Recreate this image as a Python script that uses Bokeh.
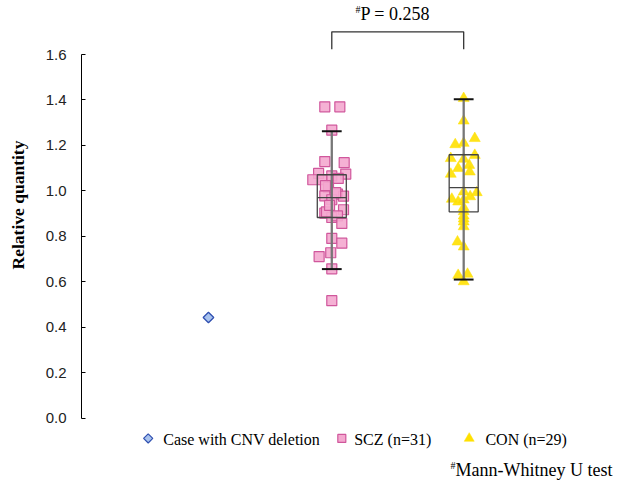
import math
from bokeh.plotting import figure
from bokeh.models import Range1d, FixedTicker, PrintfTickFormatter, ColumnDataSource
from bokeh.core.properties import value
from bokeh.embed import file_html
from bokeh.resources import INLINE

# ---------------- data ----------------
legend_labels = ["Case with CNV deletion", "SCZ (n=31)", "CON (n=29)"]

cnv_values = [0.443]

scz_values = [1.370, 1.370, 1.267, 1.129, 1.124, 1.077, 1.074, 1.049, 1.049, 1.066,
              1.055, 1.015, 0.978, 0.986, 0.977, 0.961, 0.902, 0.917, 0.883, 0.890,
              0.857, 0.791, 0.770, 0.711, 0.728, 0.657, 0.517, 0.992, 0.908, 1.023,
              0.936]
scz_jitter = [-0.053, 0.061, 0.0, -0.053, 0.094, -0.10, 0.106, -0.144, -0.07, 0.0,
              0.049, -0.025, -0.053, 0.043, 0.089, 0.0, -0.053, 0.089, 0.0, 0.043,
              0.076, 0.0, 0.076, -0.096, -0.008, 0.0, 0.0, 0.030, -0.040, -0.048,
              -0.017]

con_values = [1.407, 1.308, 1.204, 1.210, 1.231, 1.143, 1.140, 1.157, 1.099, 1.113,
              1.084, 1.074, 0.996, 0.993, 0.964, 0.975, 0.952, 0.961, 0.927, 0.890,
              0.864, 0.843, 0.776, 0.754, 0.629, 0.634, 0.601, 0.909, 0.877]
con_jitter = [0.0, 0.0, -0.064, 0.0, 0.084, -0.098, 0.0, 0.084, -0.042, 0.042,
              0.046, -0.098, 0.0, 0.099, -0.090, 0.049, -0.042, 0.0, 0.0, 0.0,
              0.0, 0.0, -0.047, 0.0, -0.042, 0.029, 0.0, 0.0, 0.0]

box_names = ["SCZ", "CON"]
box_low = [0.656, 0.610]
box_q1 = [0.883, 0.908]
box_median = [0.970, 1.014]
box_q3 = [1.071, 1.159]
box_high = [1.263, 1.403]

tick_values = [0.0, 0.2, 0.4, 0.6, 0.8, 1.0, 1.2, 1.4, 1.6]
p_value = 0.258
y_label = "Relative quantity"
test_note = "Mann-Whitney U test"

# ---------------- layout constants ----------------
group_x = {"CNV": 1.065, "SCZ": 2.0, "CON": 3.0}
AXIS_X = 0.1024
SERIF = "Liberation Serif"
SCZ_FILL, SCZ_LINE = "#F4A8CF", "#D0579C"
CON_FILL = "#FFE000"
CNV_FILL, CNV_LINE = "#A9C3EE", "#2F4FB0"

p = figure(width=614, height=480,
           x_range=Range1d(-0.5117, 4.1434), y_range=Range1d(-0.2741, 1.8377),
           x_axis_location=None, y_axis_location="left",
           output_backend="svg", toolbar_location=None,
           min_border_left=0, min_border_right=0, min_border_top=0, min_border_bottom=0)
p.outline_line_color = None
p.grid.grid_line_color = None
p.background_fill_color = "white"

ax = p.yaxis[0]
ax.fixed_location = AXIS_X
ax.bounds = (0, 1.6)
ax.ticker = FixedTicker(ticks=tick_values)
ax.formatter = PrintfTickFormatter(format="%.1f")
ax.major_tick_in = 4
ax.major_tick_out = 0
ax.minor_tick_in = 0
ax.minor_tick_out = 0
ax.major_label_standoff = 15
ax.axis_line_color = "black"
ax.major_tick_line_color = "black"
ax.major_label_text_font = "Liberation Sans"
ax.major_label_text_font_size = "15px"
ax.major_label_text_color = "#222222"

# y-axis title
p.text(x=[-0.3775], y=[0.938], text=[y_label], angle=math.pi / 2, text_font=value(SERIF),
       text_font_style="bold", text_font_size="17.5px", text_align="center",
       text_baseline="middle", text_color="black")

# ---------------- points ----------------
scz_src = ColumnDataSource(dict(x=[group_x["SCZ"] + d for d in scz_jitter], y=scz_values))
con_src = ColumnDataSource(dict(x=[group_x["CON"] + d for d in con_jitter], y=con_values))
cnv_src = ColumnDataSource(dict(x=[group_x["CNV"]] * len(cnv_values), y=cnv_values))

p.scatter("x", "y", source=scz_src, marker="square", size=10, fill_color=SCZ_FILL,
          fill_alpha=0.9, line_color=SCZ_LINE, line_width=1.2)
p.scatter("x", "y", source=con_src, marker="triangle", size=11, fill_color=CON_FILL,
          fill_alpha=0.9, line_color=CON_FILL, line_width=0.5)
p.scatter("x", "y", source=cnv_src, marker="square", angle=math.pi / 4, size=7.5,
          fill_color=CNV_FILL, line_color=CNV_LINE, line_width=1.3)

# ---------------- box plots ----------------
bx = [group_x[n] for n in box_names]
bw, cw = 0.11, 0.075
p.segment(x0=bx, x1=bx, y0=box_low, y1=box_high, line_color="#777777", line_width=2.3)
p.quad(left=[x - bw for x in bx], right=[x + bw for x in bx], bottom=box_q1, top=box_q3,
       fill_color=None, line_color="#444444", line_width=1.3)
p.segment(x0=[x - bw for x in bx], x1=[x + bw for x in bx], y0=box_median, y1=box_median,
          line_color="#444444", line_width=1.3)
p.segment(x0=[x - cw for x in bx] * 2, x1=[x + cw for x in bx] * 2,
          y0=box_low + box_high, y1=box_low + box_high, line_color="#111111", line_width=2)

# ---------------- significance bracket ----------------
xa, xb = group_x["SCZ"], group_x["CON"]
p.line(x=[xa, xa, xb, xb], y=[1.623, 1.700, 1.700, 1.623], line_color="#333333", line_width=1.3)
p.text(x=[2.217], y=[1.777], text=[f"P = {p_value:.3f}"], text_font=value(SERIF),
       text_font_size="18px", text_align="left", text_baseline="middle", text_color="black")
p.text(x=[2.180], y=[1.800], text=["#"], text_font=value(SERIF),
       text_font_size="10px", text_align="left", text_baseline="middle", text_color="black")

# ---------------- legend ----------------
ly = -0.089
p.scatter(x=[0.608], y=[ly], marker="square", angle=math.pi / 4, size=6.5,
          fill_color=CNV_FILL, line_color=CNV_LINE, line_width=1.2)
p.scatter(x=[2.076], y=[ly], marker="square", size=8, fill_color=SCZ_FILL,
          line_color=SCZ_LINE, line_width=1.2)
p.scatter(x=[3.042], y=[ly], marker="triangle", size=10, fill_color=CON_FILL,
          line_color=CON_FILL, line_width=0.5)
p.text(x=[0.722, 2.170, 3.165], y=[-0.095] * 3, text=legend_labels, text_font=value(SERIF),
       text_font_size="16px", text_align="left", text_baseline="middle", text_color="black")

# ---------------- footnote ----------------
p.text(x=[4.128], y=[-0.230], text=[test_note], text_font=value(SERIF),
       text_font_size="18px", text_align="right", text_baseline="alphabetic", text_color="black")
p.text(x=[2.938], y=[-0.206], text=["#"], text_font=value(SERIF),
       text_font_size="10px", text_align="right", text_baseline="alphabetic", text_color="black")

open("out.html", "w").write(file_html(p, INLINE))
